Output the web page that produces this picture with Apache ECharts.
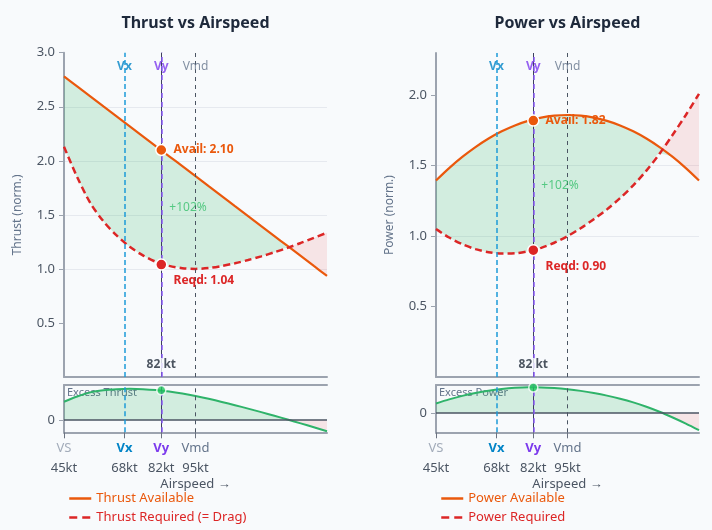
<!DOCTYPE html>
<html>
<head>
<meta charset="utf-8">
<script src="https://cdn.jsdelivr.net/npm/echarts@6/dist/echarts.min.js"></script>
<style>
html, body { margin: 0; padding: 0; background: #f8fafc; }
#chart { width: 712px; height: 530px; }
</style>
</head>
<body>
<div id="chart"></div>
<script>
// airspeed samples (kt)
const speeds = [45, 50, 55, 60, 65, 70, 75, 80, 85, 90, 95, 100, 105, 110, 115, 120, 125, 130, 135, 140, 145];
// normalised thrust
const thrustAvail = [2.780, 2.688, 2.596, 2.503, 2.411, 2.319, 2.227, 2.134, 2.042, 1.950, 1.858, 1.765, 1.673, 1.581, 1.489, 1.396, 1.304, 1.212, 1.120, 1.027, 0.935];
const thrustReqd = [2.13, 1.85, 1.61, 1.44, 1.31, 1.205, 1.125, 1.065, 1.028, 1.007, 1.00, 1.008, 1.027, 1.052, 1.082, 1.116, 1.154, 1.195, 1.24, 1.287, 1.335];
// normalised power
const powerAvail = [1.395, 1.483, 1.562, 1.632, 1.693, 1.744, 1.786, 1.818, 1.841, 1.855, 1.86, 1.855, 1.841, 1.818, 1.786, 1.744, 1.693, 1.632, 1.562, 1.483, 1.395];
const powerReqd = [1.05, 0.99, 0.943, 0.908, 0.886, 0.876, 0.878, 0.892, 0.917, 0.953, 1.00, 1.056, 1.12, 1.19, 1.27, 1.36, 1.465, 1.585, 1.72, 1.86, 2.01];
// reference speeds
const refNames = ['VS', 'Vx', 'Vy', 'Vmd'];
const refSpeeds = [45, 68, 82, 95];
// values at Vy: [available, required]
const vyThrust = [2.10, 1.04];
const vyPower = [1.82, 0.90];
const thrustTicks = [0.5, 1, 1.5, 2, 2.5, 3];
const powerTicks = [0.5, 1, 1.5, 2];

const FONT = 'Noto Sans';
const C = {
  avail: '#ea580c', reqd: '#dc2626', ex: '#2fb36a', exDot: '#22c55e',
  green: 'rgba(34,175,90,0.25)', red: 'rgba(239,68,68,0.17)',
  vx: '#0284c7', vxLine: '#1d9bd8', vy: '#7c3aed', vyLine: '#8b5cf6',
  vmd: '#64748b', axis: '#9ca3af', label: '#4b5563', split: '#e6e9ef'
};

const pairs = (ys) => speeds.map((v, i) => [v, ys[i]]);
// y first, so that stacking works on the y values
const flipped = (ys) => speeds.map((v, i) => [ys[i], v]);

const vLines = () => [
  { xAxis: refSpeeds[1], lineStyle: { color: C.vxLine, type: [5, 3], width: 1.5 } },
  { xAxis: refSpeeds[2], lineStyle: { color: '#3b3f5c', type: 'solid', width: 1 } },
  { xAxis: refSpeeds[2], lineStyle: { color: C.vyLine, type: [5, 4], width: 1.5 } },
  { xAxis: refSpeeds[3], lineStyle: { color: '#4b5563', type: [4, 4], width: 1 } }
];

const grid = [], xAxis = [], yAxis = [], series = [], legend = [], graphic = [];

function panel(p, cfg) {
  const left = cfg.left, width = 263;
  grid.push({ left: left, top: cfg.top, width: width, height: 377 - cfg.top });
  grid.push({ left: left, top: 385, width: width, height: 47.3 });
  const gx = 3 * p, gy = 2 * p;

  // main x axis
  xAxis.push({
    gridIndex: 2 * p, type: 'value', min: 45, max: 145,
    axisLine: { lineStyle: { color: C.axis, width: 2 } },
    axisTick: { show: false }, axisLabel: { show: false }, splitLine: { show: false }
  });
  // excess bottom axis with speed labels
  xAxis.push({
    gridIndex: 2 * p + 1, type: 'value', min: 45, max: 145, position: 'bottom',
    axisLine: { onZero: false, lineStyle: { color: C.axis, width: 2 } },
    axisTick: { customValues: refSpeeds, length: 6, lineStyle: { color: '#6b7280' } },
    axisLabel: {
      customValues: refSpeeds, margin: 6, fontFamily: FONT,
      formatter: (v) => {
        const i = refSpeeds.indexOf(v);
        return '{' + ['vs', 'vx', 'vy', 'vmd'][i] + '|' + refNames[i] + '}\n{kt|' + v + 'kt}';
      },
      rich: {
        vs: { color: '#a3acba', fontSize: 13, lineHeight: 20, fontFamily: FONT },
        vx: { color: C.vx, fontSize: 13, fontWeight: 'bold', lineHeight: 20, fontFamily: FONT },
        vy: { color: C.vy, fontSize: 13, fontWeight: 'bold', lineHeight: 20, fontFamily: FONT },
        vmd: { color: C.vmd, fontSize: 13, lineHeight: 20, fontFamily: FONT },
        kt: { color: C.label, fontSize: 13, lineHeight: 20, fontFamily: FONT }
      }
    },
    splitLine: { show: false },
    name: 'Airspeed \u2192', nameLocation: 'middle', nameGap: 45,
    nameTextStyle: { color: C.label, fontSize: 13, fontFamily: FONT }
  });
  // excess top border
  xAxis.push({
    gridIndex: 2 * p + 1, type: 'value', min: 45, max: 145, position: 'top',
    axisLine: { onZero: false, lineStyle: { color: C.axis, width: 2 } },
    axisTick: { show: false }, axisLabel: { show: false }, splitLine: { show: false }
  });

  yAxis.push({
    gridIndex: 2 * p, type: 'value', min: 0, max: cfg.yMax, interval: 0.5,
    name: cfg.yName, nameLocation: 'middle', nameGap: 40,
    nameTextStyle: { color: C.vmd, fontSize: 12, fontFamily: FONT },
    axisLine: { show: true, lineStyle: { color: C.axis, width: 2 } },
    axisTick: { show: true, customValues: cfg.ticks, length: 5, lineStyle: { color: C.axis } },
    axisLabel: { customValues: cfg.ticks, formatter: (v) => v.toFixed(1), color: C.label, fontSize: 13, margin: 9, fontFamily: FONT },
    splitLine: { show: true, showMinLine: false, showMaxLine: false, lineStyle: { color: C.split } }
  });
  yAxis.push({
    gridIndex: 2 * p + 1, type: 'value', min: cfg.exMin, max: cfg.exMax,
    axisLine: { show: true, lineStyle: { color: C.axis, width: 2 } },
    axisTick: { show: true, customValues: [0], length: 5, lineStyle: { color: C.axis } },
    axisLabel: { customValues: [0], formatter: () => '0', color: C.label, fontSize: 13, margin: 9, fontFamily: FONT },
    splitLine: { show: false }
  });

  const avail = cfg.avail, reqd = cfg.reqd;
  const lo = avail.map((a, i) => Math.min(a, reqd[i]));
  const gain = avail.map((a, i) => Math.max(a - reqd[i], 0));
  const loss = avail.map((a, i) => Math.max(reqd[i] - a, 0));
  const excess = avail.map((a, i) => a - reqd[i]);
  const stack = 'band' + p;
  const hidden = { opacity: 0, width: 0 };
  const main = { xAxisIndex: gx, yAxisIndex: gy };
  const sub = { xAxisIndex: gx + 1, yAxisIndex: gy + 1 };
  const band = { type: 'line', stack: stack, encode: { x: 1, y: 0 }, symbol: 'none', smooth: 0.3, lineStyle: hidden, silent: true };

  series.push(
    Object.assign({}, band, { data: flipped(lo),
      markLine: { silent: true, symbol: 'none', label: { show: false }, data: vLines() } }, main),
    Object.assign({}, band, { data: flipped(gain), areaStyle: { color: C.green } }, main),
    Object.assign({}, band, { data: flipped(loss), areaStyle: { color: C.red } }, main),
    Object.assign({ name: cfg.availName, type: 'line', data: pairs(avail), symbol: 'none', smooth: 0.3, color: C.avail, lineStyle: { color: C.avail, width: 2.2 } }, main),
    Object.assign({ name: cfg.reqdName, type: 'line', data: pairs(reqd), symbol: 'none', smooth: 0.3, color: C.reqd, lineStyle: { color: C.reqd, width: 2.5, type: [7, 4] } }, main),
    // reference speed names along the top
    Object.assign({ type: 'scatter', symbolSize: 0, silent: true, z: 5,
      data: refSpeeds.slice(1).map((v, i) => ({ value: [v, cfg.yMax],
        label: { color: [C.vx, C.vy, C.vmd][i], fontWeight: i < 2 ? 'bold' : 'normal' } })),
      label: { show: true, position: 'bottom', distance: 8, fontSize: 12, fontFamily: FONT, formatter: (d) => refNames[d.dataIndex + 1] } }, main),
    // points at Vy
    Object.assign({ type: 'scatter', symbolSize: 11, silent: true, z: 6,
      itemStyle: { borderColor: '#fff', borderWidth: 1.5, opacity: 1 },
      data: [
        { value: [refSpeeds[2], cfg.vy[0]], itemStyle: { color: C.avail },
          label: { show: true, position: 'right', distance: 6, color: C.avail, formatter: 'Avail: ' + cfg.vy[0].toFixed(2) } },
        { value: [refSpeeds[2], cfg.vy[1]], itemStyle: { color: C.reqd },
          label: { show: true, position: 'right', distance: 6, offset: [0, 16], color: C.reqd, formatter: 'Reqd: ' + cfg.vy[1].toFixed(2) } }
      ],
      label: { fontSize: 12, fontWeight: 'bold', fontFamily: FONT } }, main),
    // margin text and speed readout
    Object.assign({ type: 'scatter', symbolSize: 0, silent: true, z: 5,
      data: [
        { value: [refSpeeds[2], (cfg.vy[0] + cfg.vy[1]) / 2],
          label: { show: true, position: 'right', distance: 8, color: '#36bf6c', fontSize: 12,
            formatter: '+' + Math.round((cfg.vy[0] - cfg.vy[1]) / cfg.vy[1] * 100) + '%' } },
        { value: [refSpeeds[2], 0],
          label: { show: true, position: 'top', distance: 5, color: '#1f2937', fontSize: 12, fontWeight: 'bold',
            backgroundColor: '#f8fafc', padding: [1, 2], formatter: refSpeeds[2] + ' kt' } }
      ],
      label: { fontFamily: FONT } }, main)
  );

  series.push(
    Object.assign({ type: 'line', data: pairs(excess.map((e) => Math.max(e, 0))), symbol: 'none', smooth: 0.3, lineStyle: hidden, areaStyle: { color: C.green }, silent: true }, sub),
    Object.assign({ type: 'line', data: pairs(excess.map((e) => Math.min(e, 0))), symbol: 'none', smooth: 0.3, lineStyle: hidden, areaStyle: { color: C.red }, silent: true }, sub),
    Object.assign({ type: 'line', data: pairs(excess), symbol: 'none', smooth: 0.3, lineStyle: { color: C.ex, width: 2 }, silent: true,
      markLine: { silent: true, symbol: 'none', label: { show: false },
        data: [{ yAxis: 0, lineStyle: { color: '#4b5563', width: 1.5, type: 'solid' } }].concat(vLines()) } }, sub),
    Object.assign({ type: 'scatter', symbolSize: 9, silent: true, z: 6, itemStyle: { color: C.exDot, borderColor: '#fff', borderWidth: 1.5 },
      data: [[refSpeeds[2], cfg.vy[0] - cfg.vy[1]]] }, sub)
  );

  legend.push({
    left: left + 4, top: 492, orient: 'vertical', padding: 0, itemWidth: 22, itemHeight: 14, itemGap: 6,
    textStyle: { fontSize: 13, fontFamily: FONT },
    itemStyle: { color: 'rgba(0,0,0,0)', borderWidth: 0 },
    data: [
      { name: cfg.availName, textStyle: { color: C.avail }, lineStyle: { width: 2.5, type: 'solid' } },
      { name: cfg.reqdName, textStyle: { color: C.reqd }, lineStyle: { width: 2.5, type: [8, 5] } }
    ]
  });

  graphic.push(
    { type: 'text', x: left + width / 2, y: 23, style: { text: cfg.title, align: 'center', verticalAlign: 'middle', font: 'bold 16px "Noto Sans"', fill: '#1e293b' } },
    { type: 'text', x: left + 3, y: 393, style: { text: cfg.exName, align: 'left', verticalAlign: 'middle', font: '11px "Noto Sans"', fill: '#64748b' } }
  );
}

panel(0, {
  left: 64, top: 52.7, yMax: 3.0, ticks: thrustTicks, avail: thrustAvail, reqd: thrustReqd, vy: vyThrust,
  exMin: -0.44, exMax: 1.25, title: 'Thrust vs Airspeed', yName: 'Thrust (norm.)',
  availName: 'Thrust Available', reqdName: 'Thrust Required (= Drag)', exName: 'Excess Thrust'
});
panel(1, {
  left: 436, top: 53, yMax: 2.3, ticks: powerTicks, avail: powerAvail, reqd: powerReqd, vy: vyPower,
  exMin: -0.69, exMax: 1.01, title: 'Power vs Airspeed', yName: 'Power (norm.)',
  availName: 'Power Available', reqdName: 'Power Required', exName: 'Excess Power'
});

const chart = echarts.init(document.getElementById('chart'));
chart.setOption({
  backgroundColor: '#f8fafc',
  animation: false,
  textStyle: { fontFamily: FONT },
  grid: grid, xAxis: xAxis, yAxis: yAxis, series: series, legend: legend, graphic: graphic
});
</script>
</body>
</html>
